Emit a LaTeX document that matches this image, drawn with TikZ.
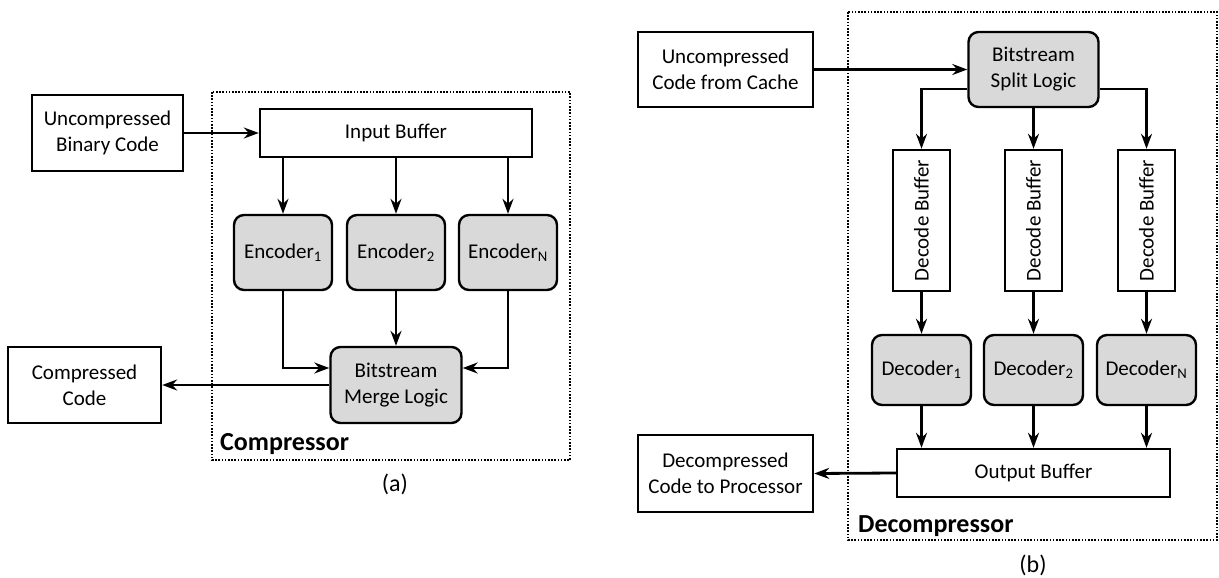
\documentclass[tikz,border=0pt]{standalone}
\usepackage{fontspec}
\setmainfont{Carlito}
\usepackage{graphicx}
\usetikzlibrary{arrows.meta}

\definecolor{blockgray}{RGB}{217,217,217}
\tikzset{
	plain/.style={draw, line width=2.4pt, inner sep=0pt, align=center, font=\fontsize{21}{26}\selectfont},
	unit/.style={plain, fill=blockgray, rounded corners=10pt},
	flow/.style={line width=2.8pt, -{Stealth[length=15pt,width=11pt,inset=5pt]}},
	frame/.style={line width=1.6pt, dash pattern=on 1.6pt off 1.6pt},
	title/.style={font=\fontsize{26}{30}\selectfont\bfseries, anchor=base west, inner sep=0pt},
	caption/.style={font=\fontsize{24}{28}\selectfont, inner sep=0pt},
}

\begin{document}
\begin{tikzpicture}[x=1pt, y=-1pt]
			%%%%% START %%%%%
			\useasboundingbox (0,0) rectangle (1219,578);
			
			%% compressor side
			\draw[frame] (212,92) rectangle (570,460);
			\node[title] (ctitle) at (220,450) {Compressor};
			
			\node[plain, minimum width=151pt, minimum height=76pt] (ubc) at (107.5,133) {Uncompressed\\Binary Code};
			\node[plain, minimum width=272pt, minimum height=48pt] (ib) at (396,133) {Input Buffer};
			
			\node[unit, minimum width=98pt, minimum height=75pt] (enc1) at (283,252.5) {Encoder\textsubscript{1}};
			\node[unit, minimum width=98pt, minimum height=75pt] (enc2) at (396,252.5) {Encoder\textsubscript{2}};
			\node[unit, minimum width=98pt, minimum height=75pt] (encN) at (508,252.5) {Encoder\textsubscript{N}};
			
			\node[unit, minimum width=131pt, minimum height=76pt] (merge) at (396,385) {Bitstream\\Merge Logic};
			\node[plain, minimum width=153pt, minimum height=76pt] (cc) at (84.5,385) {Compressed\\Code};
			
			\draw[flow] (ubc.east) -- (ib.west);
			\foreach \e in {enc1,enc2,encN}
				\draw[flow] (ib.south -| \e.north) -- (\e.north);
			\draw[flow] (enc1.south) |- ([yshift=17pt]merge.west);
			\draw[flow] (enc2.south) -- (merge.north);
			\draw[flow] (encN.south) |- ([yshift=17pt]merge.east);
			\draw[flow] (merge.west) -- (cc.east);
			
			\node[caption] (capa) at (395,484) {(a)};
			
			%% decompressor side
			\draw[frame] (848,12) rectangle (1217,540);
			\node[title] (dtitle) at (858,532) {Decompressor};
			
			\node[plain, minimum width=175pt, minimum height=75pt] (ucc) at (725.5,69.5) {Uncompressed\\Code from Cache};
			\node[unit, minimum width=130pt, minimum height=75pt] (split) at (1033.5,69.5) {Bitstream\\Split Logic};
			
			\foreach \i/\x in {1/921.5, 2/1033.5, N/1146.5} {
				\node[plain, minimum width=57pt, minimum height=141pt] (db\i) at (\x,220.5) {\rotatebox{90}{Decode Buffer}};
				\node[unit, minimum width=99pt, minimum height=70pt] (dec\i) at (\x,370) {Decoder\textsubscript{\i}};
			}
			
			\node[plain, minimum width=273pt, minimum height=48pt] (ob) at (1033.5,473) {Output Buffer};
			\node[plain, minimum width=175pt, minimum height=77pt] (dcp) at (725.5,473.5) {Decompressed\\Code to Processor};
			
			\draw[flow] (ucc.east) -- (split.west);
			\draw[flow] ([yshift=-19.5pt]split.west) -| (db1.north);
			\draw[flow] (split.south) -- (db2.north);
			\draw[flow] ([yshift=-19.5pt]split.east) -| (dbN.north);
			\foreach \i in {1,2,N} {
				\draw[flow] (db\i.south) -- (dec\i.north);
				\draw[flow] (dec\i.south) -- (ob.north -| dec\i.south);
			}
			\draw[flow] (ob.west) -- (dcp.east);
			
			\node[caption] (capb) at (1033,565) {(b)};
			
			%%%%% END %%%%%
\end{tikzpicture}
\end{document}
